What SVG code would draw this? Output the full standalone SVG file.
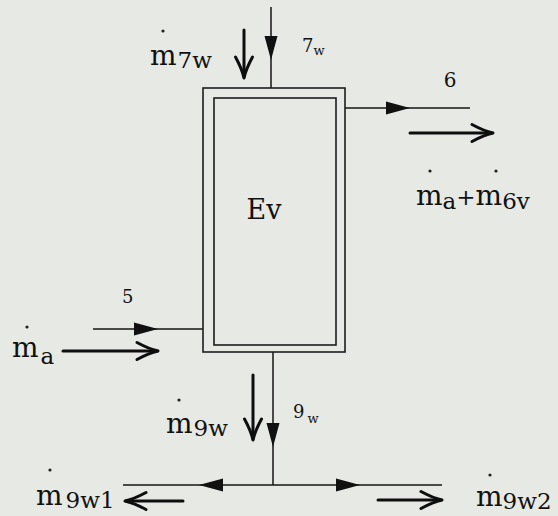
<svg xmlns="http://www.w3.org/2000/svg" xmlns:xlink="http://www.w3.org/1999/xlink" width="558" height="516" viewBox="0 0 558 516">
<style>
.bg{fill:#e6e9e4}
.box{fill:none;stroke:#1c1c1c;stroke-width:1.6}
.ln{fill:none;stroke:#161616;stroke-width:1.5}
.fl{fill:none;stroke:#0e0e0e;stroke-width:3;stroke-linecap:round}
.hd{fill:none;stroke:#0e0e0e;stroke-width:3;stroke-linecap:round;stroke-linejoin:round}
.ah{fill:#111}
.dt{fill:#222}
.t{font-family:"DejaVu Serif",serif;fill:#111}
.m{font-size:28px}
.s{font-size:23px}
.lb{font-size:18px}
.lw{font-size:13px}
</style>
<defs>
<polygon id="ah" points="0,0 -24,-6.5 -24,6.5"/>
<path id="ch" d="M-21,-8.5 Q-9,-2 0,0 Q-9,2 -21,8.5"/>
</defs>
<rect class="bg" x="0" y="0" width="558" height="516"/>

<g id="connectors">
  <line class="ln" x1="271" y1="7" x2="271" y2="88"/>
  <use href="#ah" xlink:href="#ah" class="ah" transform="translate(271,60) rotate(90)"/>
  <line class="ln" x1="345" y1="108" x2="470" y2="108"/>
  <use href="#ah" xlink:href="#ah" class="ah" transform="translate(410,108)"/>
  <line class="ln" x1="93" y1="329" x2="203" y2="329"/>
  <use href="#ah" xlink:href="#ah" class="ah" transform="translate(158,329)"/>
  <line class="ln" x1="273" y1="352" x2="273" y2="485"/>
  <use href="#ah" xlink:href="#ah" class="ah" transform="translate(273,447) rotate(90)"/>
  <line class="ln" x1="123" y1="485" x2="442" y2="485"/>
  <use href="#ah" xlink:href="#ah" class="ah" transform="translate(199,485) rotate(180)"/>
  <use href="#ah" xlink:href="#ah" class="ah" transform="translate(360,485)"/>

  <line class="fl" x1="244" y1="30" x2="244" y2="77"/>
  <use href="#ch" xlink:href="#ch" class="hd" transform="translate(244,78) rotate(90)"/>
  <line class="fl" x1="410" y1="133" x2="492" y2="133"/>
  <use href="#ch" xlink:href="#ch" class="hd" transform="translate(493,133)"/>
  <line class="fl" x1="63" y1="351" x2="157" y2="351"/>
  <use href="#ch" xlink:href="#ch" class="hd" transform="translate(158,351)"/>
  <line class="fl" x1="253" y1="375" x2="253" y2="439"/>
  <use href="#ch" xlink:href="#ch" class="hd" transform="translate(253,440) rotate(90)"/>
  <line class="fl" x1="126" y1="501" x2="183" y2="501"/>
  <use href="#ch" xlink:href="#ch" class="hd" transform="translate(125,501) rotate(180)"/>
  <line class="fl" x1="378" y1="500" x2="441" y2="500"/>
  <use href="#ch" xlink:href="#ch" class="hd" transform="translate(442,500)"/>
</g>

<g id="node-ev">
  <rect class="box" x="203" y="88" width="142" height="264"/>
  <rect class="box" x="214" y="98" width="122" height="247"/>
  <text class="t" x="264" y="219" font-size="27" text-anchor="middle">Ev</text>
</g>

<g id="label-7w">
  <text class="t lb" x="302" y="52">7<tspan class="lw" dy="3">w</tspan></text>
</g>
<g id="label-m7w">
  <circle class="dt" cx="163" cy="31" r="1.6"/>
  <text class="t m" x="150" y="65">m<tspan class="s" dy="3" dx="1">7w</tspan></text>
</g>
<g id="label-6">
  <text class="t" x="450" y="87" font-size="20" text-anchor="middle">6</text>
</g>
<g id="label-mamv">
  <circle class="dt" cx="430" cy="171" r="1.6"/>
  <circle class="dt" cx="496" cy="171" r="1.6"/>
  <text class="t m" x="416" y="205">m<tspan class="s" dy="4">a</tspan><tspan class="s" dy="-4">+</tspan><tspan>m</tspan><tspan class="s" dy="4">6v</tspan></text>
</g>
<g id="label-5">
  <text class="t lb" x="122" y="303">5</text>
</g>
<g id="label-ma">
  <circle class="dt" cx="27" cy="327" r="1.6"/>
  <text class="t m" x="12" y="357">m<tspan class="s" dy="7" dx="2">a</tspan></text>
</g>
<g id="label-m9w">
  <circle class="dt" cx="179" cy="400" r="1.6"/>
  <text class="t m" x="166" y="433">m<tspan class="s" dy="3" dx="1">9w</tspan></text>
</g>
<g id="label-9w">
  <text class="t lb" x="293" y="418">9<tspan class="lw" dy="5" dx="3">w</tspan></text>
</g>
<g id="label-m9w1">
  <circle class="dt" cx="50" cy="470" r="1.6"/>
  <text class="t m" x="36" y="505">m<tspan class="s" dy="3" dx="3">9w1</tspan></text>
</g>
<g id="label-m9w2">
  <circle class="dt" cx="490" cy="475" r="1.6"/>
  <text class="t m" x="476" y="506">m<tspan class="s" dy="3">9w2</tspan></text>
</g>
</svg>
